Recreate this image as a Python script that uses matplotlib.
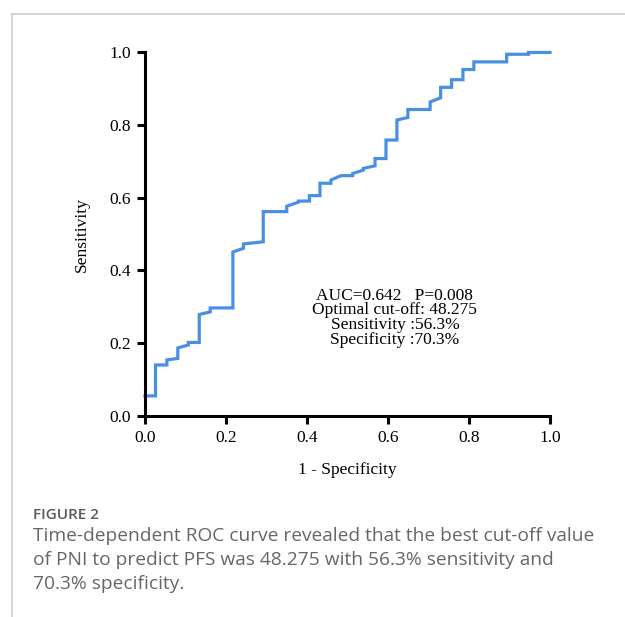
import matplotlib.pyplot as plt
from matplotlib.lines import Line2D

# ROC curve vertices
fpr = [0.0, 0.026, 0.026, 0.054, 0.054, 0.081, 0.081, 0.107, 0.107, 0.134, 0.134,
       0.161, 0.161, 0.217, 0.217, 0.243, 0.243, 0.292, 0.292, 0.350, 0.350, 0.379,
       0.379, 0.406, 0.406, 0.432, 0.432, 0.459, 0.459, 0.484, 0.513, 0.513, 0.539,
       0.539, 0.568, 0.568, 0.595, 0.595, 0.622, 0.622, 0.649, 0.649, 0.704, 0.704,
       0.730, 0.730, 0.757, 0.757, 0.785, 0.785, 0.812, 0.812, 0.893, 0.893, 0.947,
       0.947, 1.0]
tpr = [0.055, 0.055, 0.140, 0.140, 0.154, 0.158, 0.187, 0.195, 0.202, 0.202, 0.279,
       0.286, 0.297, 0.297, 0.451, 0.461, 0.473, 0.479, 0.562, 0.562, 0.577, 0.588,
       0.591, 0.591, 0.606, 0.606, 0.640, 0.640, 0.649, 0.661, 0.661, 0.667, 0.676,
       0.681, 0.688, 0.708, 0.708, 0.759, 0.759, 0.814, 0.821, 0.843, 0.843, 0.864,
       0.875, 0.904, 0.904, 0.925, 0.925, 0.953, 0.953, 0.974, 0.974, 0.995, 0.995,
       1.0, 1.0]

ticks = [0.0, 0.2, 0.4, 0.6, 0.8, 1.0]
tick_labels = ['0.0', '0.2', '0.4', '0.6', '0.8', '1.0']
stats_text = 'AUC=0.642   P=0.008\nOptimal cut-off: 48.275\nSensitivity :56.3%\nSpecificity :70.3%'
caption_title = 'FIGURE 2'
caption = ('Time-dependent ROC curve revealed that the best cut-off value\n'
           'of PNI to predict PFS was 48.275 with 56.3% sensitivity and\n'
           '70.3% specificity.')

serif = 'Liberation Serif'

fig = plt.figure(figsize=(6.25, 6.17), dpi=100)
ax = fig.add_axes([0.232, 0.326, 0.648, 0.589])

ax.plot(fpr, tpr, color='#4a90e2', lw=2.3, solid_joinstyle='miter', clip_on=False)
ax.set_xlim(0, 1)
ax.set_ylim(0, 1)
ax.set_xticks(ticks)
ax.set_yticks(ticks)
ax.set_xticklabels(tick_labels, family=serif, fontsize=12.5)
ax.set_yticklabels(tick_labels, family=serif, fontsize=12.5)
for s in ['top', 'right']:
    ax.spines[s].set_visible(False)
for s in ['left', 'bottom']:
    ax.spines[s].set_linewidth(2.2)
ax.tick_params(width=2.2, length=6, pad=4)
ax.set_xlabel('1 - Specificity', family=serif, fontsize=12.5, labelpad=12)
ax.set_ylabel('Sensitivity', family=serif, fontsize=12.5, labelpad=14)

ax.text(0.617, 0.270, stats_text, family=serif, fontsize=12.5, ha='center', va='center',
        linespacing=0.88)

# caption
fig.text(0.053, 0.165, caption_title, family='Open Sans', fontsize=11, color='#595959',
         weight='semibold', va='center')
fig.text(0.053, 0.092, caption, family='Open Sans', fontsize=13.8, color='#666666',
         va='center', linespacing=1.44)

# frame lines
fig.add_artist(Line2D([0.019, 1.0], [0.977, 0.977], color='#cccccc', lw=1.2,
                      transform=fig.transFigure))
fig.add_artist(Line2D([0.019, 0.019], [0.0, 0.977], color='#cccccc', lw=1.2,
                      transform=fig.transFigure))

fig.savefig('out.png', dpi=100)
